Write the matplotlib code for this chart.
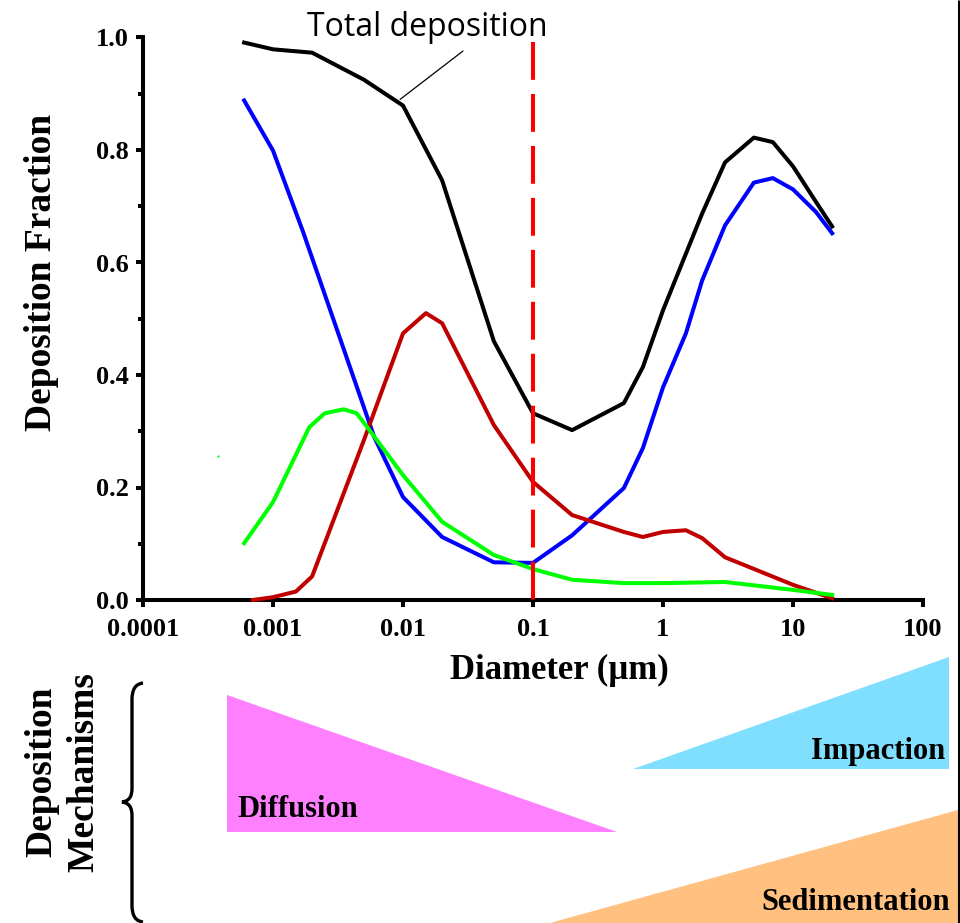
import matplotlib
matplotlib.use("Agg")
import matplotlib.pyplot as plt
from matplotlib.path import Path
from matplotlib.patches import PathPatch, Polygon
from matplotlib.ticker import NullLocator

SERIF = "Liberation Serif"
plt.rcParams["font.family"] = [SERIF, "DejaVu Serif"]
plt.rcParams["font.weight"] = "bold"
plt.rcParams["axes.labelweight"] = "bold"
plt.rcParams["font.size"] = 19

# ---- deposition fraction vs particle diameter (µm) ----
total_x = [0.0006, 0.001, 0.002, 0.005, 0.01, 0.02, 0.05, 0.1, 0.2, 0.5, 0.7,
           1, 2, 3, 5, 7, 10, 15, 20]
total_y = [0.991, 0.979, 0.973, 0.925, 0.879, 0.746, 0.460, 0.332, 0.302, 0.350,
           0.414, 0.515, 0.687, 0.778, 0.822, 0.814, 0.771, 0.708, 0.664]

blue_x = [0.0006, 0.001, 0.0017, 0.006, 0.01, 0.02, 0.05, 0.1, 0.2, 0.5, 0.7,
          1, 1.5, 2, 3, 5, 7, 10, 15, 20]
blue_y = [0.888, 0.799, 0.655, 0.290, 0.183, 0.112, 0.067, 0.066, 0.115, 0.199,
          0.270, 0.378, 0.474, 0.568, 0.666, 0.742, 0.750, 0.730, 0.690, 0.652]

red_x = [0.0007, 0.001, 0.0015, 0.002, 0.005, 0.01, 0.015, 0.02, 0.05, 0.1, 0.2,
         0.5, 0.7, 1, 1.5, 2, 3, 10, 20]
red_y = [0.000, 0.005, 0.015, 0.042, 0.284, 0.474, 0.510, 0.492, 0.311, 0.210,
         0.151, 0.121, 0.112, 0.121, 0.124, 0.110, 0.076, 0.027, 0.003]

green_x = [0.0006, 0.001, 0.0019, 0.0025, 0.0035, 0.0044, 0.0054, 0.01, 0.02,
           0.05, 0.1, 0.2, 0.5, 1, 3, 10, 20]
green_y = [0.101, 0.174, 0.307, 0.332, 0.339, 0.332, 0.305, 0.222, 0.139,
           0.080, 0.055, 0.036, 0.030, 0.030, 0.032, 0.018, 0.009]

green_speck_x = [0.00038]
green_speck_y = [0.256]

cutoff_x = 0.1

x_ticks = [0.0001, 0.001, 0.01, 0.1, 1, 10, 100]
x_tick_labels = ["0.0001", "0.001", "0.01", "0.1", "1", "10", "100"]
y_ticks = [0.0, 0.2, 0.4, 0.6, 0.8, 1.0]
y_tick_labels = ["0.0", "0.2", "0.4", "0.6", "0.8", "1.0"]
y_minor_ticks = [0.1, 0.3, 0.5, 0.7, 0.9]

# ---- mechanism wedges (drawn in page pixels) ----
mechanisms = ["Diffusion", "Impaction", "Sedimentation"]
mechanism_colors = ["#FF80FF", "#80DFFF", "#FFC080"]

W, H = 960, 923
fig = plt.figure(figsize=(W / 100, H / 100), dpi=100)

ax = fig.add_axes([143 / W, (H - 600) / H, 780 / W, 562.5 / H])
ax.set_xscale("log")
ax.set_xlim(1e-4, 100)
ax.set_ylim(0, 1)

LW = 2.9
ax.plot(total_x, total_y, color="black", lw=LW, clip_on=False, zorder=3)
ax.plot(blue_x, blue_y, color="#0000FF", lw=LW, clip_on=False, zorder=3)
ax.plot(red_x, red_y, color="#C00000", lw=LW, clip_on=False, zorder=3)
ax.plot(green_x, green_y, color="#00FF00", lw=LW, clip_on=False, zorder=3)
ax.plot(green_speck_x, green_speck_y, "o", color="#00FF00", ms=1.6, mew=0)
ax.plot([cutoff_x, cutoff_x], [0.992, 0.0], color="#FF0000", lw=LW,
        dashes=(9.4, 3.5), clip_on=False, zorder=4)

for side in ("top", "right"):
    ax.spines[side].set_visible(False)
for side in ("left", "bottom"):
    ax.spines[side].set_linewidth(LW)

ax.set_xticks(x_ticks)
ax.set_xticklabels(x_tick_labels)
ax.xaxis.set_minor_locator(NullLocator())
ax.set_yticks(y_ticks)
ax.set_yticklabels(y_tick_labels)
ax.set_yticks(y_minor_ticks, minor=True)
ax.tick_params(which="major", length=5, width=LW, direction="out")
ax.tick_params(which="minor", length=3.6, width=LW, direction="out")
ax.tick_params(axis="y", which="major", pad=5.5)
ax.tick_params(axis="x", which="major", pad=8)

ax.set_xlabel("Diameter (µm)", fontsize=25, fontweight="bold", va="center")
ax.xaxis.set_label_coords((559 - 143) / 780, (600 - 670) / 562.5)
ax.set_ylabel("Deposition Fraction", fontsize=27, fontweight="bold",
              va="center", ha="center")
ax.yaxis.set_label_coords((42 - 143) / 780, (600 - 272) / 562.5)

# leader line and caption for the total curve
ax.annotate("", xy=(0.0095, 0.89), xytext=(463, H - 51),
            textcoords="figure pixels",
            arrowprops=dict(arrowstyle="-", lw=0.9, color="black",
                            shrinkA=0, shrinkB=0))
fig.text(427 / W, 1 - 27 / H, "Total deposition", family="Open Sans",
         weight="normal", fontsize=23, ha="center", va="center")

# ---- overlay in page pixels for the mechanism schematic ----
ov = fig.add_axes([0, 0, 1, 1], zorder=-1)
ov.set_xlim(0, W)
ov.set_ylim(H, 0)
ov.axis("off")

wedges = [
    [(227, 695), (227, 832), (617, 832)],
    [(633, 769), (949, 769), (949, 657)],
    [(550, 923), (958, 923), (958, 810)],
]
for pts, col in zip(wedges, mechanism_colors):
    ov.add_patch(Polygon(pts, closed=True, facecolor=col, edgecolor="none"))

ov.text(237, 817, mechanisms[0], fontsize=22, ha="left", va="baseline")
ov.text(945, 759, mechanisms[1], fontsize=22, ha="right", va="baseline")
ov.text(950, 910, mechanisms[2], fontsize=22, ha="right", va="baseline")

ov.text(42, 772, "Deposition", fontsize=27, rotation=90, ha="center", va="center")
ov.text(84, 772, "Mechanisms", fontsize=27, rotation=90, ha="center", va="center")

brace_verts = [
    (143, 683),
    (135, 684), (132, 690), (132, 700),
    (132, 788),
    (132, 797), (129, 801), (122, 802),
    (129, 803), (132, 807), (132, 816),
    (132, 905),
    (132, 915), (135, 921), (143, 922),
]
brace_codes = ([Path.MOVETO] + [Path.CURVE4] * 3 + [Path.LINETO] + [Path.CURVE4] * 6
               + [Path.LINETO] + [Path.CURVE4] * 3)
ov.add_patch(PathPatch(Path(brace_verts, brace_codes), facecolor="none",
                       edgecolor="black", lw=2.4))

# page border on the right
ov.plot([958.5, 958.5], [0, H], color="black", lw=2.2, solid_capstyle="butt")

fig.savefig("out.png", dpi=100)
